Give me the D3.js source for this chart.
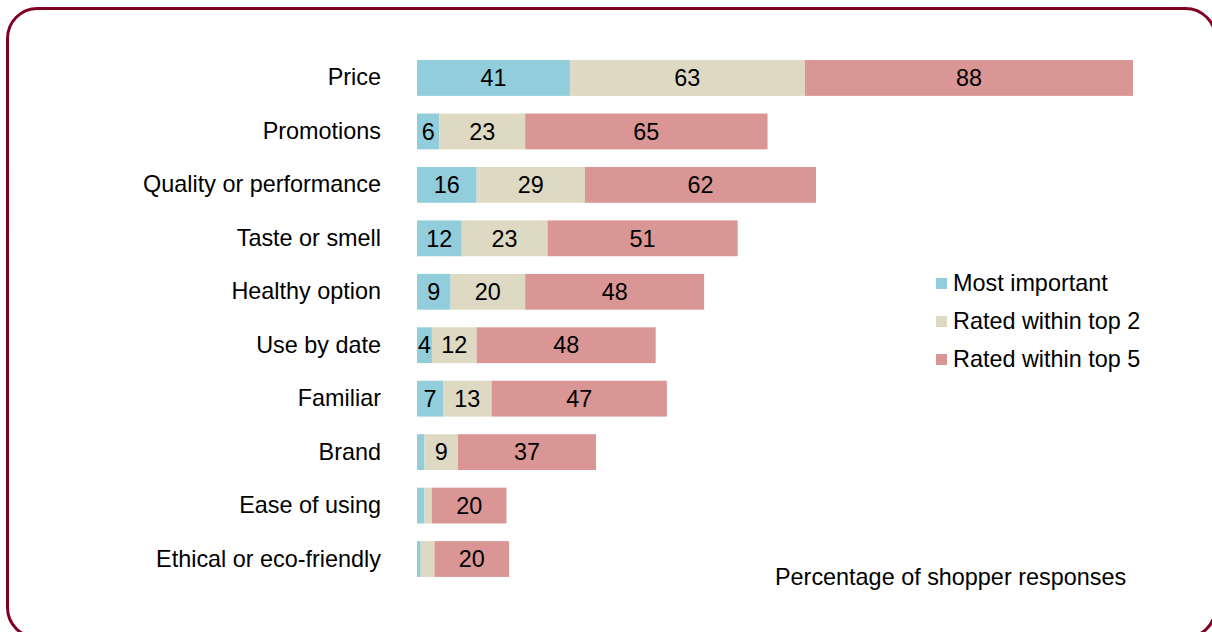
<!DOCTYPE html>
<html>
<head>
<meta charset="utf-8">
<script src="https://cdn.jsdelivr.net/npm/d3@7"></script>
<style>
  body { margin: 0; background: #fff; }
  svg { display: block; font-family: "Liberation Sans", Arial, sans-serif; }
</style>
</head>
<body>
<div id="chart"></div>
<script>
  /**
   * DATA
   * */
  const categories = ["Price", "Promotions", "Quality or performance", "Taste or smell",
    "Healthy option", "Use by date", "Familiar", "Brand", "Ease of using", "Ethical or eco-friendly"];
  const seriesNames = ["Most important", "Rated within top 2", "Rated within top 5"];
  const mostImportant = [41, 6, 16, 12, 9, 4, 7, 2, 2, 1];
  const top2 = [63, 23, 29, 23, 20, 12, 13, 9, 2, 3.7];
  const top5 = [88, 65, 62, 51, 48, 48, 47, 37, 20, 20];
  const colors = ["#92cddc", "#ddd9c3", "#d99694"];
  const axisNote = "Percentage of shopper responses";

  /**
   * CONSTANTS
   * */
  const width = 1212, height = 632;
  const margin = { top: 51, left: 417, right: 79, bottom: 46 };
  const fontSize = 23.4;

  const rows = categories.map((c, i) => ({
    cat: c, "Most important": mostImportant[i], "Rated within top 2": top2[i], "Rated within top 5": top5[i]
  }));

  const stack = d3.stack().keys(seriesNames);
  const stacked = stack(rows);

  const xScale = d3.scaleLinear()
    .domain([0, d3.max(rows, d => d["Most important"] + d["Rated within top 2"] + d["Rated within top 5"])])
    .range([margin.left, width - margin.right]);

  const yScale = d3.scaleBand()
    .domain(categories)
    .range([margin.top, height - margin.bottom])
    .paddingInner(0.33)
    .paddingOuter(0.17);

  const svg = d3.select("#chart").append("svg")
    .attr("width", width)
    .attr("height", height);

  // rounded frame
  svg.append("rect")
    .attr("x", 7.5).attr("y", 8.5)
    .attr("width", 1208).attr("height", 629)
    .attr("rx", 30).attr("ry", 30)
    .attr("fill", "none")
    .attr("stroke", "#800024")
    .attr("stroke-width", 3);

  const layers = svg.selectAll("g.layer")
    .data(stacked)
    .join("g")
    .attr("class", "layer")
    .attr("fill", (d, i) => colors[i]);

  layers.selectAll("rect")
    .data(d => d)
    .join("rect")
    .attr("x", d => xScale(d[0]))
    .attr("y", d => yScale(d.data.cat))
    .attr("width", d => xScale(d[1]) - xScale(d[0]))
    .attr("height", yScale.bandwidth());

  layers.selectAll("text")
    .data(d => d.filter(s => s[1] - s[0] >= 4))
    .join("text")
    .attr("x", d => (xScale(d[0]) + xScale(d[1])) / 2)
    .attr("y", d => yScale(d.data.cat) + yScale.bandwidth() / 2)
    .attr("dy", "0.35em")
    .attr("text-anchor", "middle")
    .attr("fill", "#000")
    .attr("font-size", fontSize)
    .text(d => d3.format("d")(d[1] - d[0]));

  // category labels
  const yAxis = d3.axisLeft(yScale).tickSize(0).tickPadding(36);
  svg.append("g")
    .attr("class", "y-axis")
    .attr("transform", `translate(${margin.left},0)`)
    .call(yAxis)
    .call(g => g.select(".domain").remove())
    .call(g => g.selectAll("text").attr("font-size", fontSize).attr("fill", "#000")
      .attr("font-family", "Liberation Sans, Arial, sans-serif"));

  // legend
  const legend = svg.append("g")
    .attr("transform", "translate(936,283)");
  const item = legend.selectAll("g")
    .data(seriesNames)
    .join("g")
    .attr("transform", (d, i) => `translate(0,${i * 38})`);
  item.append("rect")
    .attr("x", 0).attr("y", -5)
    .attr("width", 11).attr("height", 11)
    .attr("fill", (d, i) => colors[i]);
  item.append("text")
    .attr("x", 17)
    .attr("dy", "0.35em")
    .attr("font-size", fontSize)
    .text(d => d);

  svg.append("text")
    .attr("x", 775).attr("y", 577)
    .attr("dy", "0.35em")
    .attr("font-size", fontSize)
    .text(axisNote);
</script>
</body>
</html>
